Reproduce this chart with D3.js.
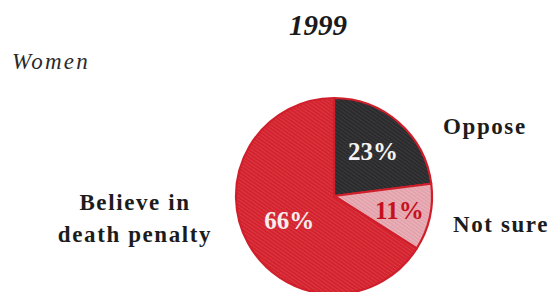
<!DOCTYPE html>
<html>
<head>
<meta charset="utf-8">
<script src="https://cdn.jsdelivr.net/npm/d3@7"></script>
<style>
  body { margin: 0; background: #fff; }
  svg { display: block; }
  text { font-family: "Liberation Serif", "DejaVu Serif", serif; }
</style>
</head>
<body>
<svg></svg>
<script>
const categories = ["Oppose", "Not sure", "Believe in death penalty"];
const values = [23, 11, 66];
const pctLabels = ["23%", "11%", "66%"];

const width = 557, height = 292;
const cx = 334, cy = 196, radius = 98;

const fills = ["#2b2b2d", "#e3a2ab", "#d3232f"];
const labelFills = ["#f4f4f4", "#c4111c", "#f6eeee"];
const labelR = [59, 67, 51];

const svg = d3.select("svg").attr("width", width).attr("height", height);

// subtle print-like texture
const defs = svg.append("defs");
fills.forEach((c, i) => {
  const p = defs.append("pattern").attr("id", "tex" + i)
    .attr("width", 3).attr("height", 3)
    .attr("patternUnits", "userSpaceOnUse")
    .attr("patternTransform", "rotate(35)");
  p.append("rect").attr("width", 3).attr("height", 3).attr("fill", c);
  p.append("rect").attr("width", 3).attr("height", 1)
    .attr("fill", i == 0 ? "#3a3a3c" : (i == 1 ? "#eab4bb" : "#dc3843"));
});

const pie = d3.pie().sort(null).value(d => d);
const arcs = pie(values);
const arc = d3.arc().innerRadius(0).outerRadius(radius);

const g = svg.append("g").attr("transform", `translate(${cx},${cy})`);

g.selectAll("path.slice").data(arcs).enter().append("path")
  .attr("class", "slice")
  .attr("d", arc)
  .attr("fill", (d, i) => `url(#tex${i})`)
  .attr("stroke", "#d01f2b")
  .attr("stroke-width", 2.2)
  .attr("stroke-linejoin", "round");

g.selectAll("text.pct").data(arcs).enter().append("text")
  .attr("class", "pct")
  .attr("transform", (d, i) => {
    const c = d3.arc().innerRadius(labelR[i]).outerRadius(labelR[i]).centroid(d);
    return `translate(${c[0]},${c[1]})`;
  })
  .attr("text-anchor", "middle")
  .attr("dy", "0.35em")
  .attr("font-weight", "bold")
  .attr("font-size", 25)
  .attr("fill", (d, i) => labelFills[i])
  .text((d, i) => pctLabels[i]);

// titles
svg.append("text")
  .attr("x", 318).attr("y", 35)
  .attr("text-anchor", "middle")
  .attr("font-size", 29).attr("font-weight", "bold").attr("font-style", "italic")
  .attr("fill", "#1a1a1a")
  .text("1999");

svg.append("text")
  .attr("x", 12).attr("y", 69)
  .attr("font-size", 23).attr("font-style", "italic")
  .attr("letter-spacing", 2.2)
  .attr("fill", "#2a2a2a")
  .text("Women");

// category labels
const catText = (x, y, lines, anchor) => {
  const t = svg.append("text")
    .attr("x", x).attr("y", y)
    .attr("text-anchor", anchor)
    .attr("font-size", 23).attr("font-weight", "bold")
    .attr("letter-spacing", 1.6)
    .attr("fill", "#1c1c1c");
  lines.forEach((l, i) => {
    t.append("tspan").attr("x", x).attr("dy", i == 0 ? 0 : 32).text(l);
  });
};

catText(443, 134, [categories[0]], "start");
catText(453, 232, [categories[1]], "start");
catText(135, 210, ["Believe in", "death penalty"], "middle");
</script>
</body>
</html>
